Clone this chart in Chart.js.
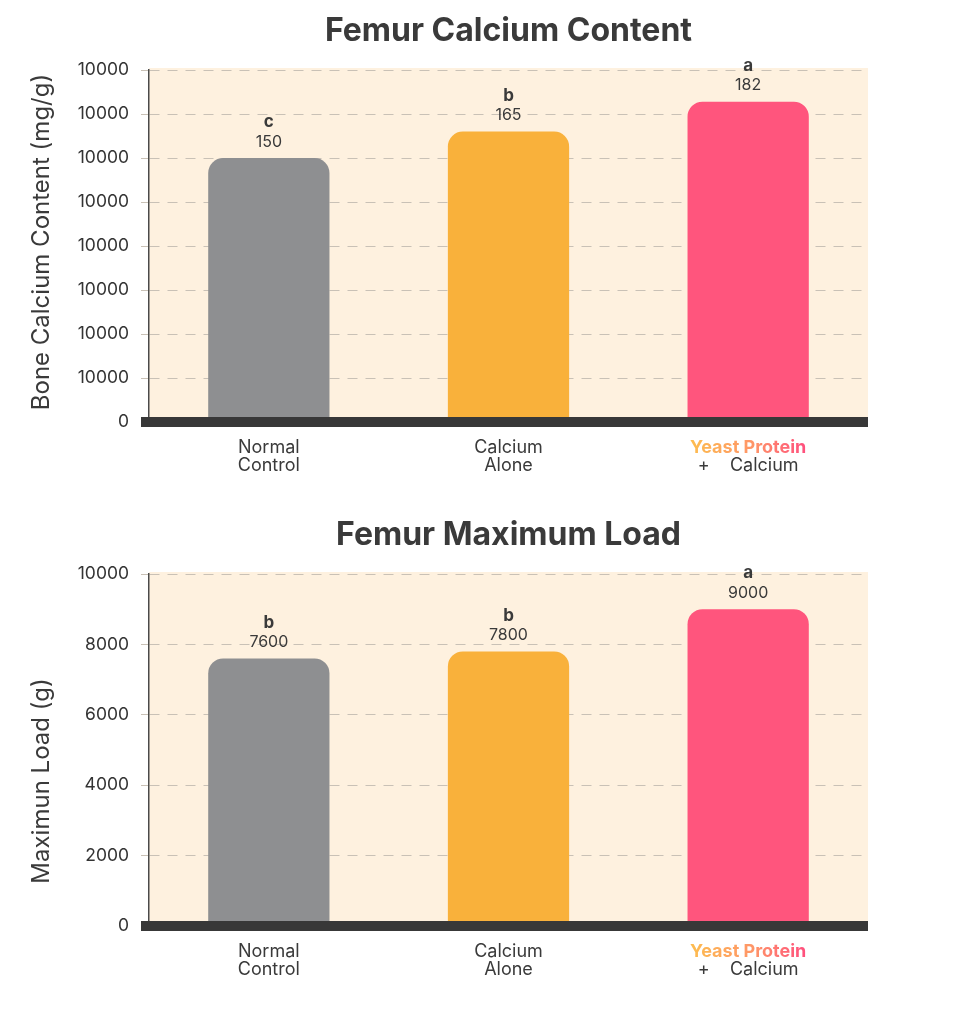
<!DOCTYPE html>
<html>
<head>
<meta charset="utf-8">
<script src="https://cdn.jsdelivr.net/npm/chart.js@4.4.1/dist/chart.umd.min.js"></script>
<style>
  html, body { margin: 0; padding: 0; background: #fff; }
  .box { position: absolute; left: 0; width: 973px; height: 490px; }
  #box1 { top: 0; }
  #box2 { top: 504px; }
</style>
</head>
<body>
<div class="box" id="box1"><canvas id="calciumChart"></canvas></div>
<div class="box" id="box2"><canvas id="loadChart"></canvas></div>
<script>
// categories (one array of lines per bar)
const categories = [['Normal', 'Control'], ['Calcium', 'Alone'], ['Yeast Protein', '+    Calcium']];
const highlightLabel = 'Yeast Protein';

// femur calcium content
const calciumValues = [150, 165, 182];
const calciumLetters = ['c', 'b', 'a'];
const calciumTicks = ['0', '10000', '10000', '10000', '10000', '10000', '10000', '10000', '10000'];

// femur maximum load
const loadValues = [7600, 7800, 9000];
const loadLetters = ['b', 'b', 'a'];
const loadTicks = ['0', '2000', '4000', '6000', '8000', '10000'];

const barColors = ['#8E8F91', '#F9B13B', '#FF557D'];
const textColor = '#3a3a3a';
const fontFamily = 'Inter, "Noto Sans", sans-serif';

const decor = {
  id: 'decor',
  beforeDraw(chart) {
    const { ctx, chartArea: a } = chart;
    ctx.save();
    ctx.fillStyle = '#FEF1DF';
    ctx.fillRect(a.left, a.top - 2, a.right - a.left, a.bottom - a.top + 2);
    ctx.restore();
  },
  afterDatasetsDraw(chart, args, opts) {
    const { ctx } = chart;
    const meta = chart.getDatasetMeta(0);
    const values = chart.data.datasets[0].data;
    ctx.save();
    ctx.fillStyle = textColor;
    ctx.textAlign = 'center';
    ctx.textBaseline = 'middle';
    meta.data.forEach((bar, i) => {
      ctx.font = '700 17px ' + fontFamily;
      ctx.fillText(opts.letters[i], bar.x, bar.y - 36);
      ctx.font = '400 16px ' + fontFamily;
      ctx.fillText(String(values[i]), bar.x, bar.y - 16);
    });
    ctx.restore();
  },
  afterDraw(chart, args, opts) {
    const { ctx, chartArea: a } = chart;
    const xs = chart.scales.x;
    const y0 = chart.scales.y.getPixelForValue(0);
    ctx.save();
    // thick base line
    ctx.fillStyle = '#383838';
    ctx.fillRect(a.left - 8, y0 - 5, a.right - a.left + 8, 10);

    // category labels
    ctx.textAlign = 'center';
    ctx.textBaseline = 'middle';
    categories.forEach((lines, i) => {
      const x = xs.getPixelForValue(i);
      lines.forEach((line, j) => {
        const y = y0 + 26 + j * 18;
        if (line === highlightLabel) {
          ctx.font = '700 18px ' + fontFamily;
          const w = ctx.measureText(line).width;
          const g = ctx.createLinearGradient(x - w / 2, 0, x + w / 2, 0);
          g.addColorStop(0, '#FDBD4F');
          g.addColorStop(0.55, '#FF9468');
          g.addColorStop(1, '#FF4E7E');
          ctx.fillStyle = g;
        } else {
          ctx.font = '400 18px ' + fontFamily;
          ctx.fillStyle = textColor;
        }
        ctx.fillText(line, x, y);
      });
    });

    // side axis title
    ctx.translate(42, (a.top + a.bottom) / 2 + opts.sideShift);
    ctx.rotate(-Math.PI / 2);
    ctx.font = '400 24px ' + fontFamily;
    ctx.fillStyle = textColor;
    ctx.fillText(opts.sideTitle, 0, 0);
    ctx.restore();
  }
};

function makeChart(id, title, values, letters, tickLabels, max, step, sideTitle, sideShift) {
  return new Chart(document.getElementById(id), {
    type: 'bar',
    data: {
      labels: categories.map((l) => l.join(' ')),
      datasets: [{
        data: values,
        backgroundColor: barColors,
        borderRadius: 15,
        borderSkipped: 'bottom',
        barPercentage: 0.506,
        categoryPercentage: 1,
      }],
    },
    options: {
      responsive: true,
      maintainAspectRatio: false,
      animation: false,
      events: [],
      layout: { padding: { left: 0, right: 105, top: 0, bottom: 0 } },
      plugins: {
        legend: { display: false },
        tooltip: { enabled: false },
        title: {
          display: true,
          text: title,
          fullSize: false,
          color: textColor,
          font: { family: fontFamily, size: 32, weight: '700', lineHeight: 1.2 },
          padding: { top: 12, bottom: 19.6 },
        },
        decor: { letters: letters, sideTitle: sideTitle, sideShift: sideShift },
      },
      scales: {
        x: {
          grid: { display: false },
          border: { display: false },
          ticks: { display: false },
          afterFit: (scale) => { scale.height = 68; },
        },
        y: {
          min: 0,
          max: max,
          afterFit: (scale) => { scale.width = 149; },
          ticks: {
            stepSize: step,
            padding: 12,
            color: '#333',
            font: { family: fontFamily, size: 17.5 },
            callback: (v, i) => tickLabels[i],
          },
          grid: {
            color: (c) => (c.tick && c.tick.value === 0 ? 'rgba(0,0,0,0)' : '#C9C1B6'),
            tickLength: 8,
            lineWidth: 1,
          },
          border: { display: true, color: '#4a4a4a', width: 1.5, dash: [10, 8] },
        },
      },
    },
    plugins: [decor],
  });
}

makeChart('calciumChart', 'Femur Calcium Content', calciumValues, calciumLetters, calciumTicks,
  200, 25, 'Bone Calcium Content (mg/g)', -4);
makeChart('loadChart', 'Femur Maximum Load', loadValues, loadLetters, loadTicks,
  10000, 2000, 'Maximun Load (g)', 31);
</script>
</body>
</html>
